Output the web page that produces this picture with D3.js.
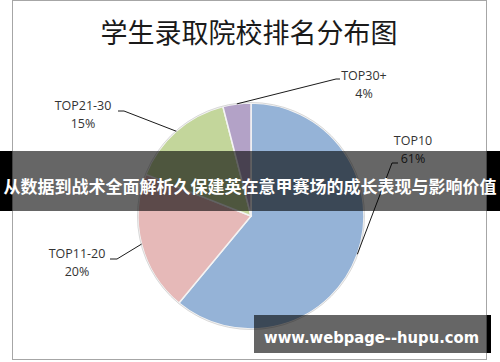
<!DOCTYPE html>
<html>
<head>
<meta charset="utf-8">
<script src="https://cdn.jsdelivr.net/npm/d3@7"></script>
<style>
  html, body { margin: 0; padding: 0; background: #fff; }
  svg { display: block; }
</style>
</head>
<body>
<div id="chart"></div>
<script>
// data
var categories = ["TOP10", "TOP11-20", "TOP21-30", "TOP30+"];
var shares = [61, 20, 15, 4];
var sliceColors = ["#95b3d7", "#e6b9b8", "#c3d69b", "#b3a2c7"];
var chartTitle = "学生录取院校排名分布图";
var bannerText = "从数据到战术全面解析久保建英在意甲赛场的成长表现与影响价值";
var watermark = "www.webpage--hupu.com";

var width = 500, height = 362;
var cx = 251, cy = 216, radius = 113;

// label placement: text centre x, first baseline, elbow of the leader line
var labelPos = [
  {x: 413, y: 145, elbow: [392, 163], end: [398, 163]},
  {x: 77,  y: 258, elbow: [117, 259], end: [110, 259]},
  {x: 83,  y: 110, elbow: [124, 111], end: [118, 111]},
  {x: 364, y: 80,  elbow: [336, 79],  end: [340, 79]}
];

var svg = d3.select("#chart").append("svg")
  .attr("width", width)
  .attr("height", height);

// chart frame
svg.append("rect")
  .attr("x", 12.5).attr("y", 0.5)
  .attr("width", 474).attr("height", 359)
  .attr("fill", "#fff")
  .attr("stroke", "#a6a6a6");

svg.append("text")
  .attr("x", 249).attr("y", 31)
  .attr("text-anchor", "middle")
  .attr("dominant-baseline", "central")
  .attr("font-family", "'Noto Sans CJK SC', sans-serif")
  .attr("font-size", "27px")
  .attr("fill", "#1a1a1a")
  .text(chartTitle);

var pie = d3.pie().sort(null).value(function(d) { return d; });
var arcs = pie(shares);
var arc = d3.arc().innerRadius(0).outerRadius(radius);

var g = svg.append("g").attr("transform", "translate(" + cx + "," + cy + ")");
g.selectAll("path.slice")
  .data(arcs)
  .enter().append("path")
  .attr("class", "slice")
  .attr("d", arc)
  .attr("fill", function(d, i) { return sliceColors[i]; })
  .attr("stroke", "#f4f4f4")
  .attr("stroke-width", 1.5);

g.append("circle")
  .attr("r", radius + 0.5)
  .attr("fill", "none")
  .attr("stroke", "#d9d9d9")
  .attr("stroke-width", 1);

// leader lines start on the pie edge at the middle of each slice
var lines = svg.append("g");
arcs.forEach(function(d, i) {
  var a = (d.startAngle + d.endAngle) / 2;
  var px = cx + radius * Math.sin(a);
  var py = cy - radius * Math.cos(a);
  var p = labelPos[i];
  lines.append("path")
    .attr("d", "M" + px + "," + py + "L" + p.elbow[0] + "," + p.elbow[1] + "L" + p.end[0] + "," + p.end[1])
    .attr("fill", "none")
    .attr("stroke", "#1a1a1a")
    .attr("stroke-width", 1);
});

var labels = svg.append("g")
  .attr("font-family", "'Open Sans', sans-serif")
  .attr("font-size", "12.5px")
  .attr("fill", "#333");
arcs.forEach(function(d, i) {
  var p = labelPos[i];
  var t = labels.append("text").attr("text-anchor", "middle");
  t.append("tspan").attr("x", p.x).attr("y", p.y).text(categories[i]);
  t.append("tspan").attr("x", p.x).attr("y", p.y + 18).text(shares[i] + "%");
});

// dark banner across the middle
svg.append("rect").attr("x", 0).attr("y", 151).attr("width", 12).attr("height", 60).attr("fill", "#000");
svg.append("rect").attr("x", 487).attr("y", 151).attr("width", 13).attr("height", 60).attr("fill", "#000");
svg.append("rect").attr("x", 12).attr("y", 151).attr("width", 475).attr("height", 60)
  .attr("fill", "#000").attr("fill-opacity", 0.6);
svg.append("text")
  .attr("x", 250).attr("y", 185)
  .attr("text-anchor", "middle")
  .attr("dominant-baseline", "central")
  .attr("font-family", "'Noto Sans CJK SC', sans-serif")
  .attr("font-weight", "bold")
  .attr("font-size", "17px")
  .attr("fill", "#fff")
  .text(bannerText);

// watermark box
svg.append("rect").attr("x", 487).attr("y", 315).attr("width", 4).attr("height", 38).attr("fill", "#000");
svg.append("rect").attr("x", 254).attr("y", 315).attr("width", 233).attr("height", 38)
  .attr("fill", "#000").attr("fill-opacity", 0.6);
svg.append("text")
  .attr("x", 264).attr("y", 343)
  .attr("font-family", "'DejaVu Sans', sans-serif")
  .attr("font-weight", "bold")
  .attr("font-size", "16px")
  .attr("textLength", 215)
  .attr("lengthAdjust", "spacingAndGlyphs")
  .attr("fill", "#fff")
  .text(watermark);
</script>
</body>
</html>
